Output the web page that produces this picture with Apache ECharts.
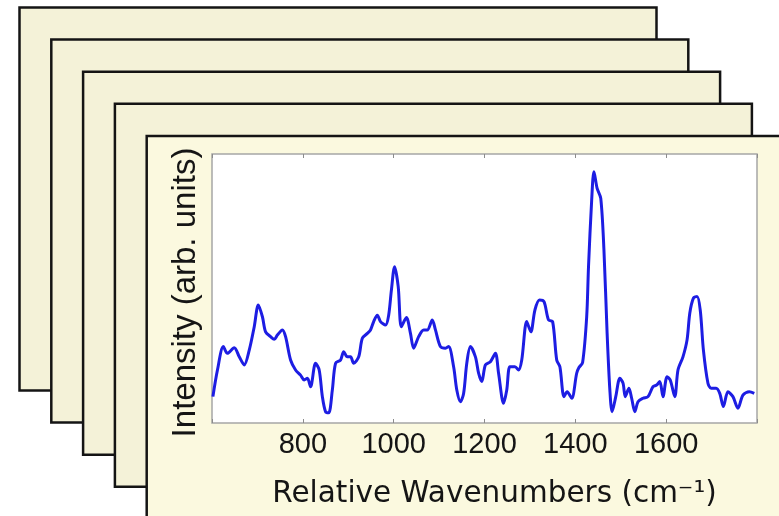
<!DOCTYPE html>
<html>
<head>
<meta charset="utf-8">
<title>Raman spectrum</title>
<script src="https://cdn.jsdelivr.net/npm/echarts@6/dist/echarts.min.js"></script>
<style>
  html, body { margin: 0; padding: 0; background: #ffffff; }
  #chart { width: 779px; height: 516px; }
</style>
</head>
<body>
<div id="chart"></div>
<script>
// Raman shift (cm^-1) of each sample point
var wavenumbers = [
  602, 612, 625, 634, 649, 660, 671, 682, 693, 702, 711, 718, 729, 737, 744, 755,
  762, 773, 784, 795, 803, 810, 817, 828, 836, 843, 850, 857, 865, 872, 883, 890,
  898, 905, 912, 923, 931, 942, 949, 956, 964, 971, 982, 989, 995, 1002, 1010, 1017,
  1028, 1037, 1044, 1055, 1066, 1074, 1085, 1092, 1103, 1114, 1121, 1132, 1139, 1147,
  1154, 1161, 1169, 1180, 1187, 1194, 1202, 1213, 1224, 1231, 1242, 1249, 1256, 1267,
  1275, 1282, 1293, 1302, 1311, 1321, 1331, 1341, 1350, 1359, 1366, 1375, 1382, 1392,
  1403, 1408, 1416, 1425, 1429, 1436, 1441, 1448, 1456, 1463, 1470, 1476, 1481, 1489,
  1498, 1505, 1510, 1518, 1524, 1531, 1538, 1549, 1560, 1571, 1579, 1586, 1593, 1602,
  1609, 1619, 1626, 1637, 1646, 1652, 1660, 1668, 1675, 1682, 1692, 1699, 1710, 1718,
  1726, 1736, 1747, 1758, 1769, 1783, 1794
];

// Measured intensity (arbitrary units)
var intensity = [
  9.8, 19.7, 28.4, 25.9, 28.0, 24.6, 21.6, 27.1, 35.8, 43.9, 39.5, 33.9, 32.1, 31.1, 32.7, 34.6,
  32.1, 23.4, 19.7, 17.8, 16.0, 16.6, 13.5, 22.2, 19.7, 9.8, 4.2, 3.8, 12.3, 22.2, 23.4, 26.5,
  24.6, 24.6, 22.2, 24.6, 31.5, 33.3, 34.6, 37.7, 40.1, 37.7, 36.4, 40.1, 49.4, 58.1, 50.7, 35.8,
  39.2, 33.3, 27.8, 32.1, 34.6, 34.6, 38.3, 34.6, 28.4, 27.8, 28.4, 20.9, 12.3, 7.9,
  11.0, 22.2, 28.4, 24.6, 18.5, 15.4, 21.6, 22.8, 25.9, 18.5, 7.3, 12.3, 20.9, 20.9,
  19.7, 23.4, 37.7, 33.9, 42.0, 45.7, 45.1, 38.3, 37.7, 23.4, 20.9, 9.8, 11.6, 9.2,
  18.5, 20.6, 22.5, 39.5, 58.1, 82.9, 93.4, 87.2, 83.5, 64.3, 33.3, 12.3, 4.2, 9.8,
  16.6, 14.8, 9.8, 12.9, 9.2, 4.2, 7.9, 9.2, 9.8, 13.5, 14.1, 15.4, 9.8, 17.2,
  16.0, 9.8, 19.7, 24.6, 30.9, 40.8, 46.4, 47.0, 42.0, 27.1, 14.8, 12.9, 12.9, 11.0,
  6.1, 11.6, 9.8, 5.5, 10.4, 11.6, 11.0
];

// Axis settings
var xMin = 600, xMax = 1800, xStep = 200;
var xLabeled = [800, 1000, 1200, 1400, 1600];

var spectrum = wavenumbers.map(function (w, i) { return [w, intensity[i]]; });

// Stack of sample sheets behind the front plot
var sheetFill = '#f4f2d8';
var frontFill = '#fbf9df';
var sheets = [];
for (var k = 0; k < 5; k++) {
  sheets.push({
    type: 'rect',
    z: -10 + k,
    shape: { x: 19.5 + k * 31.8, y: 7.5 + k * 32.1, width: 637, height: 383 },
    style: { fill: k === 4 ? frontFill : sheetFill, stroke: '#141414', lineWidth: 2.5 }
  });
}

var chart = echarts.init(document.getElementById('chart'), null, { renderer: 'canvas' });

var tickStyle = { show: true, inside: true, length: 4, lineStyle: { color: '#8c8c8c', width: 1 } };

chart.setOption({
  animation: false,
  backgroundColor: '#ffffff',
  graphic: { z: -10, elements: sheets },
  grid: {
    left: 212, right: 22, top: 154, bottom: 93,
    show: true,
    backgroundColor: '#ffffff',
    borderColor: '#a6a6a6',
    borderWidth: 1.5,
    outerBoundsMode: 'none',
    containLabel: false
  },
  xAxis: [
    {
      type: 'value',
      position: 'bottom',
      min: xMin, max: xMax, interval: xStep,
      axisLine: { show: false },
      axisTick: tickStyle,
      splitLine: { show: false },
      axisLabel: {
        margin: 7,
        color: '#151515',
        fontFamily: 'Liberation Sans',
        fontSize: 29,
        formatter: function (v) { return xLabeled.indexOf(v) >= 0 ? String(v) : ''; }
      },
      name: 'Relative Wavenumbers (cm\u207B\u00B9)',
      nameLocation: 'middle',
      nameGap: 56,
      nameTextStyle: {
        color: '#151515',
        fontFamily: 'DejaVu Sans',
        fontSize: 29.5,
        padding: [0, 0, 0, 20]
      }
    },
    {
      type: 'value',
      position: 'top',
      min: xMin, max: xMax, interval: xStep,
      axisLine: { show: false },
      axisTick: tickStyle,
      axisLabel: { show: false },
      splitLine: { show: false }
    }
  ],
  yAxis: {
    type: 'value',
    min: 0, max: 100,
    axisLine: { show: false },
    axisTick: { show: false },
    axisLabel: { show: false },
    splitLine: { show: false },
    name: 'Intensity (arb. units)',
    nameLocation: 'middle',
    nameGap: 10,
    nameTextStyle: {
      color: '#151515',
      fontFamily: 'Liberation Sans',
      fontSize: 33,
      padding: [0, 8, 0, 0]
    }
  },
  series: [{
    type: 'line',
    xAxisIndex: 0,
    data: spectrum,
    showSymbol: false,
    smooth: 0.3,
    lineStyle: { color: '#1d1de3', width: 3 },
    z: 5
  }]
});
</script>
</body>
</html>
